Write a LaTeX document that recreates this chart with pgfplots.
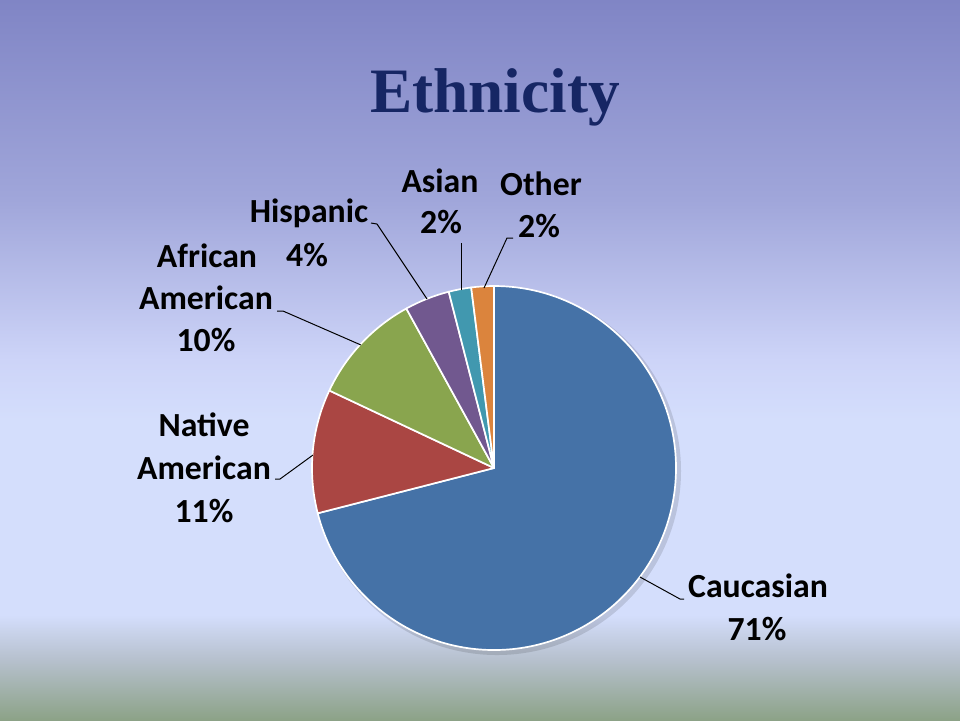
\documentclass[border=0pt]{standalone}
\usepackage{pgfplots}
\pgfplotsset{compat=1.18}
\usepackage{fontspec}
\setmainfont{Carlito}
\newfontfamily\titlefont{Liberation Serif}
\definecolor{bgtop}{RGB}{128,133,197}
\definecolor{bgA}{RGB}{160,166,218}
\definecolor{bgB}{RGB}{205,212,248}
\definecolor{bgmid}{RGB}{212,222,252}
\definecolor{bgC}{RGB}{182,192,205}
\definecolor{bgbot}{RGB}{140,162,135}
\definecolor{cCau}{RGB}{69,114,167}
\definecolor{cNat}{RGB}{170,70,67}
\definecolor{cAfr}{RGB}{137,165,78}
\definecolor{cHis}{RGB}{113,88,143}
\definecolor{cAsi}{RGB}{65,152,175}
\definecolor{cOth}{RGB}{219,132,61}
\definecolor{titlecol}{RGB}{22,38,100}
\pgfdeclareverticalshading{bgshade}{100bp}{color(0bp)=(bgbot); color(25bp)=(bgbot); color(29.17bp)=(bgC); color(32.29bp)=(bgmid); color(45.83bp)=(bgmid); color(50bp)=(bgB); color(61.11bp)=(bgA); color(75bp)=(bgtop); color(100bp)=(bgtop)}
% slice: #1 cumulative start percent, #2 percent, #3 colour
\newcommand\slice[3]{%
  \fill[#3, draw=white, line width=1.2pt, line join=round]
    (axis cs:494,468) -- (axis cs:{494+182*cos(90-3.6*#1)},{468-182*sin(90-3.6*#1)})
    arc[start angle={90-3.6*#1}, end angle={90-3.6*(#1+#2)}, radius=4.55cm] -- cycle;}
\newcommand\lab[3]{\node[anchor=base, inner sep=0pt, font=\fontsize{24}{30}\selectfont\bfseries] at (axis cs:#1,#2) {#3};}
\begin{document}
\begin{tikzpicture}
\begin{axis}[
  scale only axis, width=24cm, height=18cm,
  xmin=0, xmax=960, ymin=0, ymax=720, y dir=reverse,
  hide axis, clip=false]
  \shade[shading=bgshade] (axis cs:0,0) rectangle (axis cs:960,720);
  % title
  \node[anchor=base, inner sep=0pt, text=titlecol,
        font=\titlefont\fontsize{45}{52}\selectfont\bfseries] at (axis cs:495,112) {Ethnicity};
  % shadow of pie
  \fill[black, opacity=0.12] (axis cs:497,471) circle[radius=4.6cm];
  % data: Caucasian 71, Native American 11, African American 10, Hispanic 4, Asian 2, Other 2
  \slice{0}{71}{cCau}
  \slice{71}{11}{cNat}
  \slice{82}{10}{cAfr}
  \slice{92}{4}{cHis}
  \slice{96}{2}{cAsi}
  \slice{98}{2}{cOth}
  % leader lines
  \draw[black, line width=0.7pt] (axis cs:640,577) -- (axis cs:680,599) -- (axis cs:684,599);
  \draw[black, line width=0.7pt] (axis cs:313,455) -- (axis cs:280,479) -- (axis cs:275,479);
  \draw[black, line width=0.7pt] (axis cs:361,345) -- (axis cs:283,311) -- (axis cs:277,311);
  \draw[black, line width=0.7pt] (axis cs:427,299) -- (axis cs:377,224) -- (axis cs:371,223);
  \draw[black, line width=0.7pt] (axis cs:461,290) -- (axis cs:461,243);
  \draw[black, line width=0.7pt] (axis cs:484,288) -- (axis cs:507,238) -- (axis cs:513,238);
  % labels
  \lab{440}{192}{Asian}
  \lab{441}{233}{2\%}
  \lab{541}{195}{Other}
  \lab{539}{237}{2\%}
  \lab{309}{222}{Hispanic}
  \lab{307}{266}{4\%}
  \lab{207}{267}{African}
  \lab{206}{309}{American}
  \lab{206}{351}{10\%}
  \lab{204}{436}{Native}
  \lab{204}{479}{American}
  \lab{204}{522}{11\%}
  \lab{758}{597}{Caucasian}
  \lab{757}{640}{71\%}
\end{axis}
\end{tikzpicture}
\end{document}
